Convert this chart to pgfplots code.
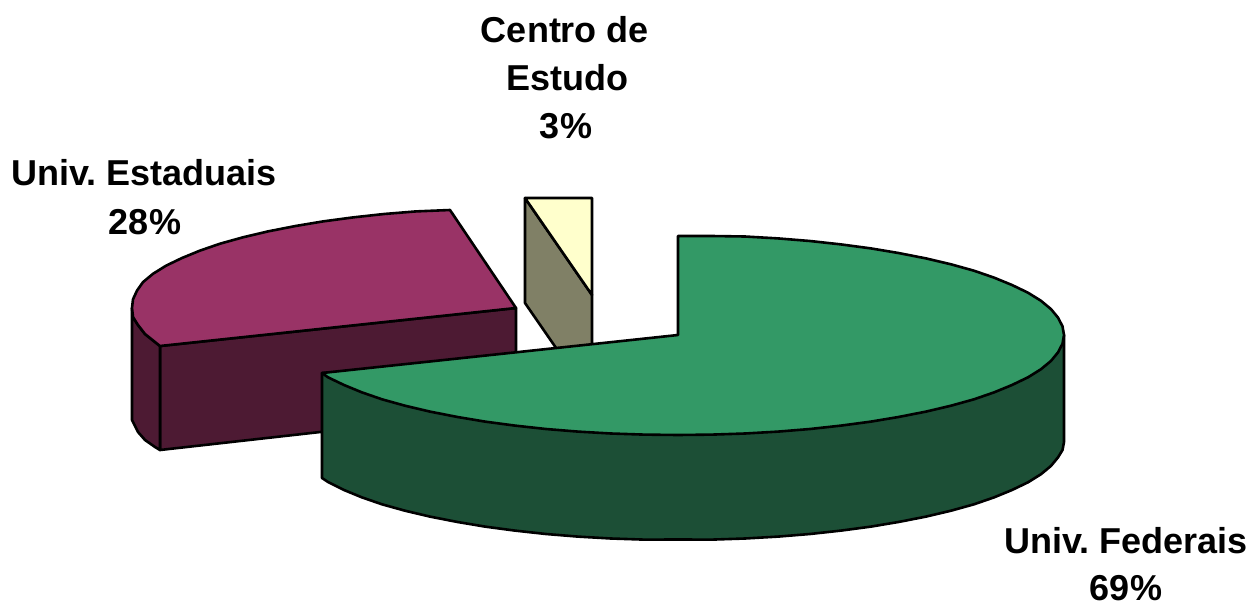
\documentclass[border=0pt]{standalone}
\usepackage{pgfplots}
\pgfplotsset{compat=1.18}
\usepackage{fontspec}
\setmainfont{Liberation Sans}
\frenchspacing
\definecolor{gtop}{HTML}{339966}
\definecolor{gside}{HTML}{1C4F36}
\definecolor{ptop}{HTML}{993366}
\definecolor{pside}{HTML}{4D1A33}
\definecolor{ytop}{HTML}{FFFFCC}
\definecolor{yside}{HTML}{808066}
\newcommand{\lab}[3]{\node[anchor=base,inner sep=0pt,font=\fontsize{36}{43}\selectfont\bfseries] at (axis cs:#1,#2) {#3};}
\begin{document}
\begin{tikzpicture}
\begin{axis}[
  width=1254pt,height=606pt,scale only axis,
  xmin=0,xmax=1254,ymin=0,ymax=606,y dir=reverse,
  hide axis,clip=false,
  every axis plot/.append style={draw=black,line width=2.6pt,line join=round,mark=none}
]
\path (axis cs:0,0) rectangle (axis cs:1254,606);
% Univ. Estaduais: front cut face
\addplot[fill=pside] coordinates {(160,346)(516,308)(516,410)(160,450)} -- cycle;
% Univ. Estaduais: outer wall
\addplot[fill=pside] coordinates {(132,308)(133,317)(138,325)(145,334)(155,342)(160,346)(160,450)(155,447)(145,440)(138,432)(132,420)} -- cycle;
% Univ. Estaduais: top
\addplot[fill=ptop] coordinates {(516,308)(450,210)(416,211.4)(384,214)(353,217.4)(323,221.4)(295,226.1)(268,231.4)(243,237.3)(220,243.7)(200,250.6)(182,258)(166,265.7)(153,273.8)(143,282.1)(137,290.6)(133,299.3)(132,308)(133,317)(138,325)(145,334)(155,342)(160,346)} -- cycle;
% Centro de Estudo
\addplot[fill=yside] coordinates {(525,198)(592,295)(592,400)(525,303)} -- cycle;
\addplot[fill=ytop] coordinates {(525,198)(592,198)(592,295)} -- cycle;
% Univ. Federais: wall
\addplot[fill=gside] coordinates {(322,373)(322,478)(328,482)(344,490)(362,497.4)(382,504.3)(405,510.7)(430,516.6)(457,521.9)(485,526.6)(515,530.6)(546,534)(578,536.6)(611,538.5)(644,539.6)(678,539.5)(712,539.6)(745,538.5)(778,536.6)(810,534)(841,530.6)(871,526.6)(899,521.9)(926,516.6)(951,510.7)(974,504.3)(994,497.4)(1012,490)(1028,482.3)(1041,474.2)(1051,465.9)(1058,457.4)(1062.5,450)(1064,442)(1064,335)} -- cycle;
% Univ. Federais: top
\addplot[fill=gtop] coordinates {(678,335)(678,236)(712,236)(745,236.5)(778,238.4)(810,241)(841,244.4)(871,248.4)(899,253.1)(926,258.4)(951,264.3)(974,270.7)(994,277.6)(1012,285)(1028,292.7)(1041,300.8)(1051,309.1)(1058,317.6)(1062.5,326.3)(1064,335)(1062.5,343.7)(1058,352.4)(1051,360.9)(1041,369.2)(1028,377.3)(1012,385)(994,392.4)(974,399.3)(951,405.7)(926,411.6)(899,416.9)(871,421.6)(841,425.6)(810,429)(778,431.6)(745,433.5)(712,434.6)(678,435)(644,434.6)(611,433.5)(578,431.6)(546,429)(515,425.6)(485,421.6)(457,416.9)(430,411.6)(405,405.7)(382,399.3)(362,392.4)(344,385)(328,377.3)(322,373)} -- cycle;
\lab{565}{42}{Centro de}
\lab{567}{90}{Estudo}
\lab{566}{138}{3\%}
\lab{144}{185}{Univ. Estaduais}
\lab{145}{234}{28\%}
\lab{1126}{553}{Univ. Federais}
\lab{1126}{600}{69\%}
\end{axis}
\end{tikzpicture}
\end{document}
